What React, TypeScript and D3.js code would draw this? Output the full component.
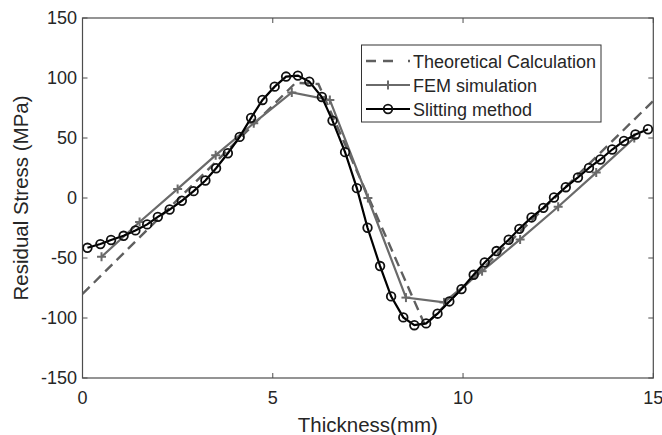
import React from "react";
import * as d3 from "d3";

const theoX = [0, 5.6, 6.2, 9.0, 15];
const theoY = [-80, 96, 95, -106, 81];

const femX = [0.5, 1.5, 2.5, 3.5, 4.5, 5.5, 6.5, 7.5, 8.5, 9.5, 10.5, 11.5, 12.5, 13.5, 14.5];
const femY = [-49, -20, 7.6, 35.7, 62.3, 88, 81.7, 0, -83, -87, -61, -34.5, -7.3, 21.2, 50];

const slitX = [0.13, 0.47, 0.75, 1.08, 1.39, 1.70, 1.98, 2.29, 2.61, 2.92, 3.23, 3.51, 3.82, 4.13, 4.43, 4.73, 5.05, 5.35, 5.66, 5.96, 6.29, 6.57, 6.90, 7.21, 7.49, 7.82, 8.11, 8.43, 8.72, 9.03, 9.33, 9.64, 9.96, 10.28, 10.57, 10.88, 11.20, 11.48, 11.80, 12.11, 12.39, 12.70, 13.02, 13.31, 13.61, 13.92, 14.23, 14.53, 14.86];
const slitY = [-41.5, -38.4, -35, -31.5, -27, -22, -15.7, -9.6, -2.3, 5.7, 14.6, 24.8, 37.3, 50.9, 66.8, 81.7, 92.8, 101.2, 102, 97, 84.2, 64.5, 38.2, 8.2, -24.8, -56.7, -82, -99.5, -106, -104.5, -96.4, -86.2, -75.9, -64, -53.7, -44.2, -34.8, -25.7, -16.2, -8.2, 0.4, 9, 17.1, 25.1, 32.1, 40.4, 47.6, 52.9, 57.3];

const xTicks = [0, 5, 10, 15];
const yTicks = [-150, -100, -50, 0, 50, 100, 150];
const legendLabels = ["Theoretical Calculation", "FEM simulation", "Slitting method"];

const W = 662, H = 435;
const L = 82.5, R = 653.3, T = 18, B = 378;
const FONT = "'Liberation Sans', Arial, Helvetica, sans-serif";
const TXT = "#262626";
const AX = "#4d4d4d";
const THEO_C = "#5f5f5f";
const FEM_C = "#6a6a6a";

export default function App() {
  const x = d3.scaleLinear().domain([0, 15]).range([L, R]);
  const y = d3.scaleLinear().domain([-150, 150]).range([B, T]);
  const line = d3.line<[number, number]>().x(d => x(d[0])).y(d => y(d[1]));
  const theo = theoX.map((v, i) => [v, theoY[i]] as [number, number]);
  const fem = femX.map((v, i) => [v, femY[i]] as [number, number]);
  const slit = slitX.map((v, i) => [v, slitY[i]] as [number, number]);
  const tick = 5;
  const legX = 361.5, legY = 45, legW = 239.5, legH = 77;
  const rowY = [61, 85, 109];

  return (
    <div style={{ position: "fixed", left: 0, top: 0 }}>
      <svg width={W} height={H} style={{ display: "block", background: "#fff" }} fontFamily={FONT}>
        <rect x={0} y={0} width={W} height={H} fill="#fff" />
        <defs>
          <clipPath id="plotclip">
            <rect x={L} y={T} width={R - L} height={B - T} />
          </clipPath>
        </defs>
        <rect x={L} y={T} width={R - L} height={B - T} fill="none" stroke={AX} strokeWidth={1.2} />
        {xTicks.map(t => (
          <g key={"xt" + t}>
            <line x1={x(t)} x2={x(t)} y1={B} y2={B - tick} stroke={AX} strokeWidth={1} />
            <line x1={x(t)} x2={x(t)} y1={T} y2={T + tick} stroke={AX} strokeWidth={1} />
            <text x={x(t)} y={404} textAnchor="middle" fontSize={18} fill={TXT}>{t}</text>
          </g>
        ))}
        {yTicks.map(t => (
          <g key={"yt" + t}>
            <line x1={L} x2={L + tick} y1={y(t)} y2={y(t)} stroke={AX} strokeWidth={1} />
            <line x1={R} x2={R - tick} y1={y(t)} y2={y(t)} stroke={AX} strokeWidth={1} />
            <text x={77} y={y(t) + 6} textAnchor="end" fontSize={18} fill={TXT}>{t}</text>
          </g>
        ))}
        <text x={(L + R) / 2} y={432} textAnchor="middle" fontSize={20.5} fill={TXT}>Thickness(mm)</text>
        <text transform={`translate(28,${(T + B) / 2}) rotate(-90)`} textAnchor="middle" fontSize={20.5} fill={TXT}>Residual Stress (MPa)</text>

        <g clipPath="url(#plotclip)">
          <path d={line(theo) || ""} fill="none" stroke={THEO_C} strokeWidth={2.4} strokeDasharray="10,6" />
          <path d={line(fem) || ""} fill="none" stroke={FEM_C} strokeWidth={2.2} />
          {fem.map((d, i) => (
            <g key={"fm" + i} stroke={FEM_C} strokeWidth={2}>
              <line x1={x(d[0]) - 4.5} x2={x(d[0]) + 4.5} y1={y(d[1])} y2={y(d[1])} />
              <line x1={x(d[0])} x2={x(d[0])} y1={y(d[1]) - 4.5} y2={y(d[1]) + 4.5} />
            </g>
          ))}
          <path d={line(slit) || ""} fill="none" stroke="#000" strokeWidth={2.2} />
          {slit.map((d, i) => (
            <circle key={"sl" + i} cx={x(d[0])} cy={y(d[1])} r={4.3} fill="none" stroke="#111" strokeWidth={1.8} />
          ))}
        </g>

        <rect x={legX} y={legY} width={legW} height={legH} fill="#fff" stroke="#333" strokeWidth={1} />
        <line x1={366} x2={410} y1={rowY[0]} y2={rowY[0]} stroke={THEO_C} strokeWidth={2.4} strokeDasharray="10,7,10,15,2" />
        <line x1={366} x2={410} y1={rowY[1]} y2={rowY[1]} stroke={FEM_C} strokeWidth={2.2} />
        <g stroke={FEM_C} strokeWidth={2}>
          <line x1={383.5} x2={392.5} y1={rowY[1]} y2={rowY[1]} />
          <line x1={388} x2={388} y1={rowY[1] - 4.5} y2={rowY[1] + 4.5} />
        </g>
        <line x1={366} x2={410} y1={rowY[2]} y2={rowY[2]} stroke="#000" strokeWidth={2.2} />
        <circle cx={388} cy={rowY[2]} r={4.3} fill="none" stroke="#111" strokeWidth={1.8} />
        {legendLabels.map((s, i) => (
          <text key={s} x={413} y={rowY[i] + 6.5} fontSize={18} fill={TXT}>{s}</text>
        ))}
      </svg>
    </div>
  );
}
